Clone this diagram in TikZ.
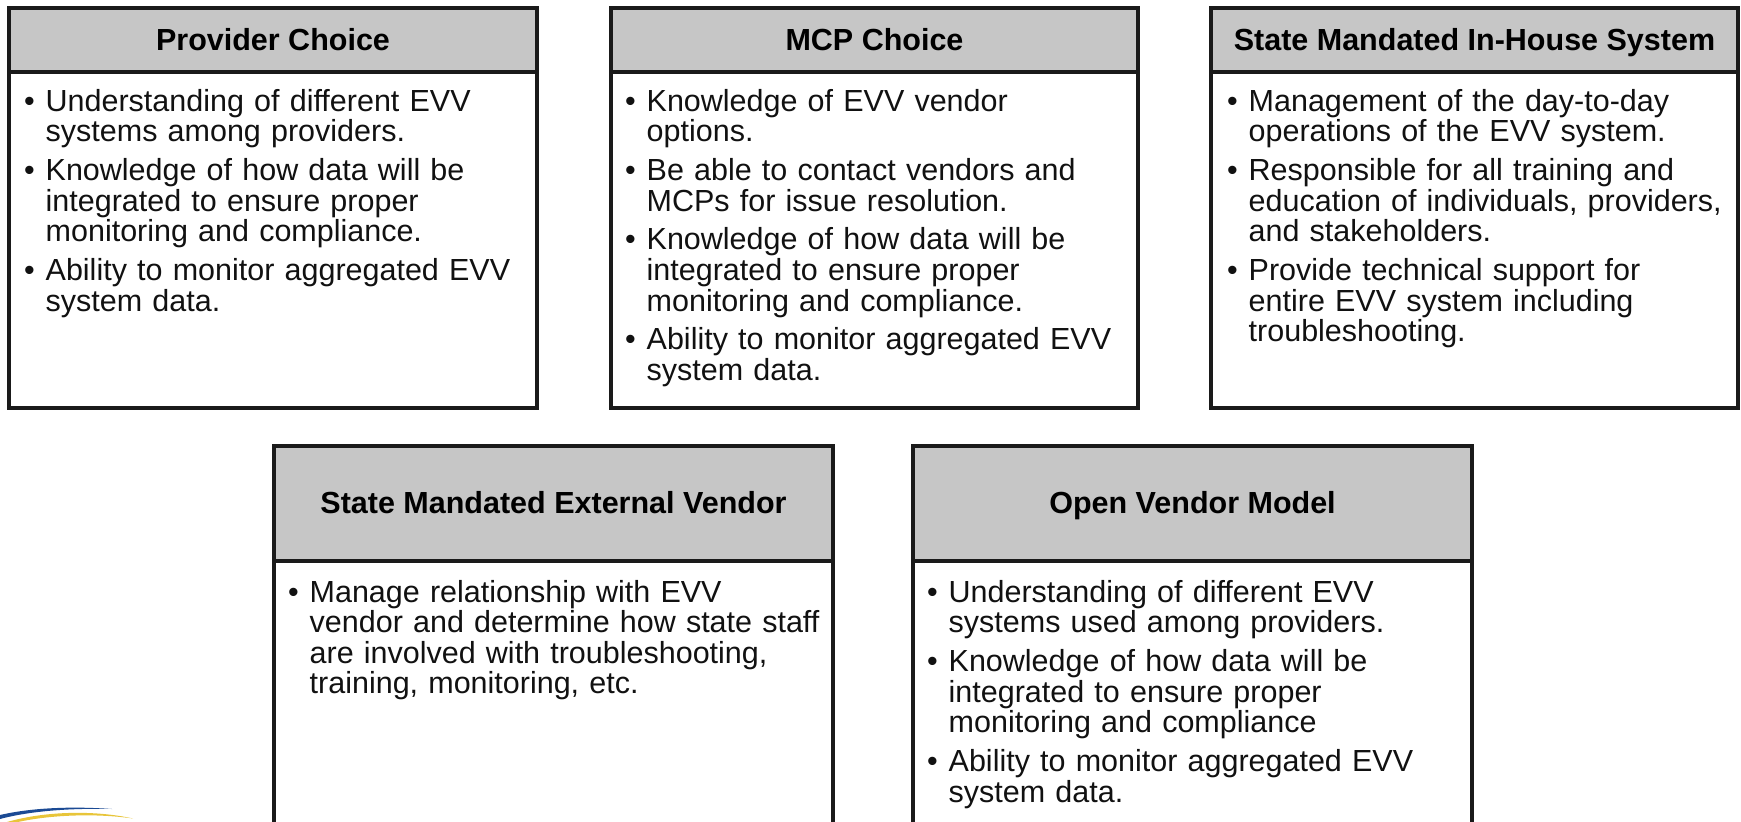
\documentclass[tikz,border=0pt]{standalone}
\usepackage{fontspec}
\setmainfont{Liberation Sans}
\definecolor{hdr}{HTML}{C6C6C6}
\definecolor{ln}{HTML}{1A1A1A}
\definecolor{txt}{HTML}{111111}
\definecolor{logoblue}{HTML}{1B4A94}
\definecolor{logoyellow}{HTML}{E8C53A}
\newcommand{\bitem}[1]{\par\hangindent=21.5pt\hangafter=1\noindent\makebox[21.5pt][l]{•}#1\par}
\tikzset{
  x=1pt,y=-1pt,
  boxline/.style={draw=ln,line width=4pt,line join=miter,inner sep=0pt,outer sep=0pt,anchor=north west},
  headbox/.style={boxline,fill=hdr,font=\fontsize{30.5}{32}\selectfont\bfseries,text=black,text height=26.5pt,text depth=6pt},
  bodybox/.style={boxline,fill=white},
  bodytext/.style={anchor=north west,inner sep=0pt,text width=#1,font=\fontsize{30.5}{30.6}\selectfont,text=txt},
}
\begin{document}
\begin{tikzpicture}
\useasboundingbox (0,0) rectangle (1741,822);
% top row
\node[bodybox,minimum width=528pt,minimum height=336pt] (b1) at (9,72) {};
\node[headbox,minimum width=528pt,minimum height=64pt] (h1) at (9,8) {Provider Choice};
\node[bodytext=510pt] (t1) at (24,72) {\parskip=8.2pt
\bitem{Understanding of different EVV\newline systems among providers.}
\bitem{Knowledge of how data will be\newline integrated to ensure proper\newline monitoring and compliance.}
\bitem{Ability to monitor aggregated EVV\newline system data.}};

\node[bodybox,minimum width=527pt,minimum height=336pt] (b2) at (611,72) {};
\node[headbox,minimum width=527pt,minimum height=64pt] (h2) at (611,8) {MCP Choice};
\node[bodytext=510pt] (t2) at (625,72) {\parskip=8.2pt
\bitem{Knowledge of EVV vendor\newline options.}
\bitem{Be able to contact vendors and\newline MCPs for issue resolution.}
\bitem{Knowledge of how data will be\newline integrated to ensure proper\newline monitoring and compliance.}
\bitem{Ability to monitor aggregated EVV\newline system data.}};

\node[bodybox,minimum width=527pt,minimum height=336pt] (b3) at (1211,72) {};
\node[headbox,minimum width=527pt,minimum height=64pt] (h3) at (1211,8) {State Mandated In-House System};
\node[bodytext=510pt] (t3) at (1227,72) {\parskip=8.2pt
\bitem{Management of the day-to-day\newline operations of the EVV system.}
\bitem{Responsible for all training and\newline education of individuals, providers,\newline and stakeholders.}
\bitem{Provide technical support for\newline entire EVV system including\newline troubleshooting.}};

% bottom row
\node[bodybox,minimum width=559pt,minimum height=290pt] (b4) at (274,561) {};
\node[headbox,minimum width=559pt,minimum height=115pt] (h4) at (274,446) {State Mandated External Vendor};
\node[bodytext=540pt] (t4) at (288,563) {\parskip=8.2pt
\bitem{Manage relationship with EVV\newline vendor and determine how state staff\newline are involved with troubleshooting,\newline training, monitoring, etc.}};

\node[bodybox,minimum width=559pt,minimum height=290pt] (b5) at (913,561) {};
\node[headbox,minimum width=559pt,minimum height=115pt] (h5) at (913,446) {Open Vendor Model};
\node[bodytext=540pt] (t5) at (927,563) {\parskip=8.2pt
\bitem{Understanding of different EVV\newline systems used among providers.}
\bitem{Knowledge of how data will be\newline integrated to ensure proper\newline monitoring and compliance}
\bitem{Ability to monitor aggregated EVV\newline system data.}};

% logo fragment
\fill[logoblue] (0,815) .. controls (30,808) and (70,806) .. (112,809) .. controls (70,808) and (30,811) .. (0,819) -- cycle;
\fill[logoyellow] (7,822) .. controls (45,811) and (95,810) .. (133,818.5) .. controls (95,813) and (50,815) .. (18,822) -- cycle;
\end{tikzpicture}
\end{document}
